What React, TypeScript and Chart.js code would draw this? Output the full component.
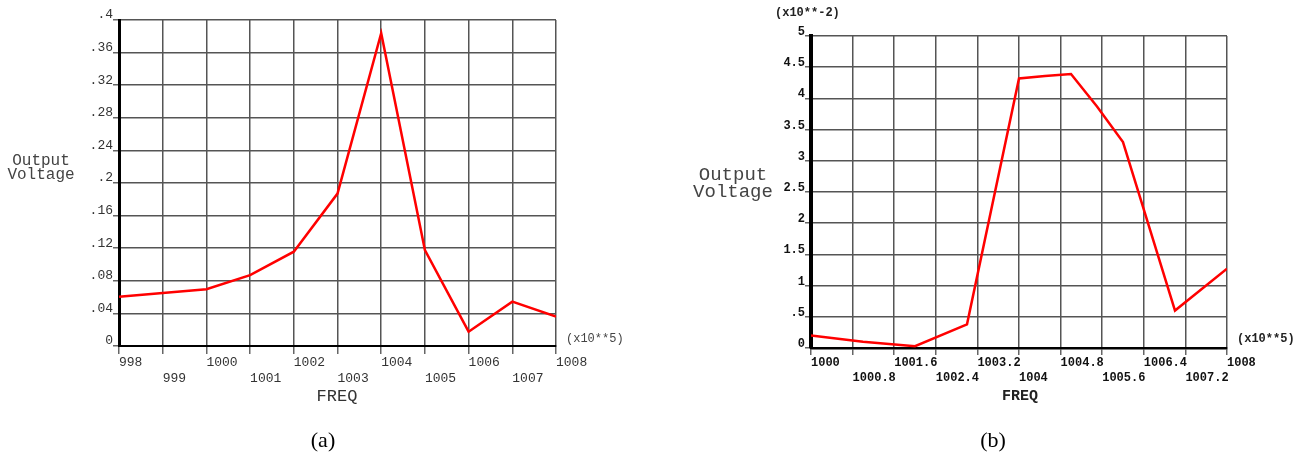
import React, { useEffect, useRef } from 'react';
import { Chart, registerables } from 'chart.js';

Chart.register(...registerables);

// ---------- Chart (a) data ----------
const freqA = [998, 999, 1000, 1001, 1002, 1003, 1004, 1005, 1006, 1007, 1008];
const voltA = [0.0605, 0.065, 0.0696, 0.087, 0.1157, 0.187, 0.3837, 0.1178, 0.0176, 0.0544, 0.036];
const xTicksA = [998, 999, 1000, 1001, 1002, 1003, 1004, 1005, 1006, 1007, 1008];
const xTickLabelsA = ['998', '999', '1000', '1001', '1002', '1003', '1004', '1005', '1006', '1007', '1008'];
const yTicksA = [0, 0.04, 0.08, 0.12, 0.16, 0.2, 0.24, 0.28, 0.32, 0.36, 0.4];
const yTickLabelsA = ['0', '.04', '.08', '.12', '.16', '.2', '.24', '.28', '.32', '.36', '.4'];

// ---------- Chart (b) data (values in x10**-2) ----------
const freqB = [1000, 1001, 1002, 1003, 1004, 1004.5, 1005, 1005.5, 1006, 1007, 1008];
const voltB = [0.2, 0.1, 0.03, 0.38, 4.32, 4.36, 4.39, 3.87, 3.3, 0.6, 1.27];
const xTicksB = [1000, 1000.8, 1001.6, 1002.4, 1003.2, 1004, 1004.8, 1005.6, 1006.4, 1007.2, 1008];
const xTickLabelsB = ['1000', '1000.8', '1001.6', '1002.4', '1003.2', '1004', '1004.8', '1005.6', '1006.4', '1007.2', '1008'];
const yTicksB = [0, 0.5, 1, 1.5, 2, 2.5, 3, 3.5, 4, 4.5, 5];
const yTickLabelsB = ['0', '.5', '1', '1.5', '2', '2.5', '3', '3.5', '4', '4.5', '5'];

type Spec = {
  xs: number[];
  ys: number[];
  xTicks: number[];
  xLabels: string[];
  yTicks: number[];
  yLabels: string[];
  yAxisWidth: number;
  xAxisHeight: number;
  padding: { left: number; right: number; top: number; bottom: number };
  font: { family: string; size: number; weight: string };
  tickColor: string;
  yBorder: number;
  xBorder: number;
  xTickLen: number;
  yTickLen: number;
  yLabelOffset: number;
  xLineHeight: number;
  xPad: number;
};

function buildConfig(s: Spec): any {
  return {
    type: 'line',
    data: {
      datasets: [
        {
          data: s.xs.map((x, i) => ({ x, y: s.ys[i] })),
          borderColor: '#ff0000',
          borderWidth: 2.5,
          pointRadius: 0,
          tension: 0,
          fill: false,
        },
      ],
    },
    options: {
      animation: false,
      responsive: false,
      maintainAspectRatio: false,
      events: [],
      layout: { padding: s.padding },
      plugins: { legend: { display: false }, tooltip: { enabled: false }, title: { display: false } },
      scales: {
        x: {
          type: 'linear',
          min: s.xTicks[0],
          max: s.xTicks[s.xTicks.length - 1],
          afterBuildTicks: (scale: any) => {
            scale.ticks = s.xTicks.map((v) => ({ value: v }));
          },
          afterFit: (scale: any) => {
            scale.height = s.xAxisHeight;
          },
          grid: { color: '#555', lineWidth: 1.5, tickLength: s.xTickLen, tickColor: '#666' },
          border: { display: true, color: '#000', width: s.xBorder },
          ticks: {
            autoSkip: false,
            maxRotation: 0,
            minRotation: 0,
            align: 'start',
            padding: s.xPad,
            color: s.tickColor,
            font: { family: s.font.family, size: s.font.size, weight: s.font.weight, lineHeight: s.xLineHeight + 'px' },
            callback: (_v: any, i: number) => (i % 2 === 0 ? s.xLabels[i] : ['', s.xLabels[i]]),
          },
        },
        y: {
          type: 'linear',
          min: s.yTicks[0],
          max: s.yTicks[s.yTicks.length - 1],
          afterBuildTicks: (scale: any) => {
            scale.ticks = s.yTicks.map((v) => ({ value: v }));
          },
          afterFit: (scale: any) => {
            scale.width = s.yAxisWidth;
          },
          grid: { color: '#555', lineWidth: 1.5, tickLength: s.yTickLen, tickColor: '#666' },
          border: { display: true, color: '#000', width: s.yBorder },
          ticks: {
            autoSkip: false,
            padding: 0,
            labelOffset: s.yLabelOffset,
            color: s.tickColor,
            font: { family: s.font.family, size: s.font.size, weight: s.font.weight },
            callback: (_v: any, i: number) => s.yLabels[i],
          },
        },
      },
    },
  };
}

const specA: Spec = {
  xs: freqA,
  ys: voltA,
  xTicks: xTicksA,
  xLabels: xTickLabelsA,
  yTicks: yTicksA,
  yLabels: yTickLabelsA,
  yAxisWidth: 119,
  xAxisHeight: 40,
  padding: { left: 0, right: 94, top: 20, bottom: 24 },
  font: { family: '"Liberation Mono", monospace', size: 13, weight: 'normal' },
  tickColor: '#333',
  yBorder: 3,
  xBorder: 2,
  xTickLen: 8,
  yTickLen: 6,
  yLabelOffset: -5,
  xLineHeight: 16,
  xPad: 1,
};

const specB: Spec = {
  xs: freqB,
  ys: voltB,
  xTicks: xTicksB,
  xLabels: xTickLabelsB,
  yTicks: yTicksB,
  yLabels: yTickLabelsB,
  yAxisWidth: 161,
  xAxisHeight: 40,
  padding: { left: 0, right: 80, top: 36, bottom: 22 },
  font: { family: '"Liberation Mono", monospace', size: 12, weight: 'bold' },
  tickColor: '#111',
  yBorder: 4,
  xBorder: 2.5,
  xTickLen: 7,
  yTickLen: 6,
  yLabelOffset: -4,
  xLineHeight: 15,
  xPad: 0,
};

function ChartCanvas({ spec, left, width, height }: { spec: Spec; left: number; width: number; height: number }) {
  const ref = useRef<HTMLCanvasElement | null>(null);
  useEffect(() => {
    if (!ref.current) return;
    const chart = new Chart(ref.current, buildConfig(spec));
    return () => chart.destroy();
  }, [spec]);
  return (
    <canvas
      ref={ref}
      width={width}
      height={height}
      style={{ position: 'absolute', left, top: 0, width, height }}
    />
  );
}

const mono = '"Liberation Mono", monospace';

function Label({ text, left, top, size, weight, color, center, lh }: any) {
  return (
    <div
      style={{
        position: 'absolute',
        left,
        top,
        fontFamily: mono,
        fontSize: size,
        fontWeight: weight || 'normal',
        color: color || '#333',
        lineHeight: (lh || size) + 'px',
        whiteSpace: 'pre',
        textAlign: center ? 'center' : 'left',
        transform: center ? 'translateX(-50%)' : undefined,
      }}
    >
      {text}
    </div>
  );
}

export default function App() {
  return (
    <div
      style={{
        position: 'absolute',
        left: 0,
        top: 0,
        width: 1307,
        height: 458,
        background: '#fff',
        overflow: 'hidden',
      }}
    >
      <ChartCanvas spec={specA} left={0} width={650} height={410} />
      <ChartCanvas spec={specB} left={650} width={657} height={410} />

      {/* chart (a) texts */}
      <Label text={'Output\nVoltage'} left={41} top={153.5} size={16} lh={14} color="#444" center />
      <Label text="FREQ" left={337} top={389} size={17} lh={16} color="#333" center />
      <Label text="(x10**5)" left={566} top={333} size={12} color="#444" />

      {/* chart (b) texts */}
      <Label text="(x10**-2)" left={775} top={7} size={12} weight="bold" color="#222" />
      <Label text={'Output\nVoltage'} left={733} top={167} size={19} lh={17} color="#444" center />
      <Label text="FREQ" left={1020} top={389} size={15} weight="bold" color="#222" center />
      <Label text="(x10**5)" left={1237} top={333} size={12} weight="bold" color="#222" />

      {/* captions */}
      <div
        style={{
          position: 'absolute',
          left: 323,
          top: 427,
          transform: 'translateX(-50%)',
          fontFamily: '"Liberation Serif", serif',
          fontSize: 22,
          lineHeight: '26px',
          color: '#000',
        }}
      >
        (a)
      </div>
      <div
        style={{
          position: 'absolute',
          left: 993,
          top: 427,
          transform: 'translateX(-50%)',
          fontFamily: '"Liberation Serif", serif',
          fontSize: 22,
          lineHeight: '26px',
          color: '#000',
        }}
      >
        (b)
      </div>
    </div>
  );
}
